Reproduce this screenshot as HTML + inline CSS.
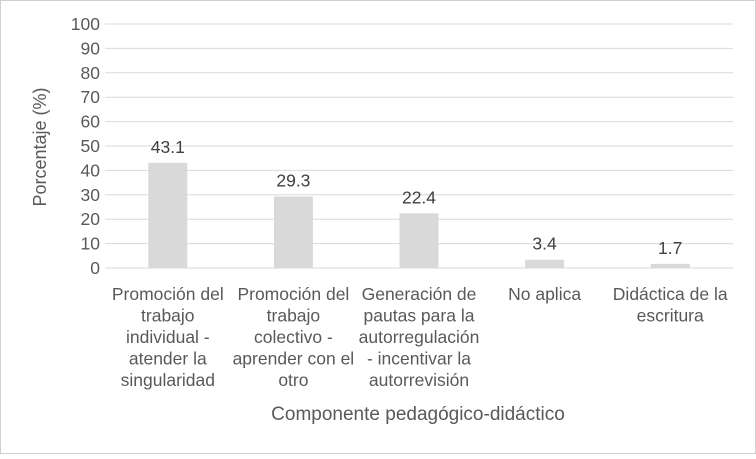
<!DOCTYPE html>
<html><head><meta charset="utf-8"><style>
body{margin:0;background:#fff;font-family:"Liberation Sans",sans-serif;}
</style></head><body>
<svg id="chart" width="756" height="454" xmlns="http://www.w3.org/2000/svg" font-family="Liberation Sans, sans-serif">
<rect x="0.5" y="0.5" width="755" height="453" fill="#fff" stroke="#d0d0d0"/>
<g id="grid"></g><g id="bars"></g><g id="labels"></g>
<text x="46" y="147" transform="rotate(-90 46 147)" text-anchor="middle" font-size="18" fill="#595959">Porcentaje (%)</text>
<text x="418" y="420" text-anchor="middle" font-size="19" fill="#595959">Componente pedagógico-didáctico</text>
</svg>
<script>
const categories=[["Promoción del","trabajo","individual -","atender la","singularidad"],["Promoción del","trabajo","colectivo -","aprender con el","otro"],["Generación de","pautas para la","autorregulación","- incentivar la","autorrevisión"],["No aplica"],["Didáctica de la","escritura"]];
const values=[43.1,29.3,22.4,3.4,1.7];
const yTicks=[0,10,20,30,40,50,60,70,80,90,100];
const NS="http://www.w3.org/2000/svg";
const L=105,R=733,Y0=268,Y1=24;
const y=v=>Y0-(v/100)*(Y0-Y1);
const band=(R-L)/categories.length;
const xc=i=>L+band*(i+0.5);
function mk(tag,attrs,parent,txt){const e=document.createElementNS(NS,tag);for(const k in attrs)e.setAttribute(k,attrs[k]);if(txt!==undefined)e.textContent=txt;document.getElementById(parent).appendChild(e);return e;}
yTicks.forEach(t=>{
  const l=mk('line',{x1:L,x2:R,y1:y(t),y2:y(t),stroke:'#d9d9d9','stroke-width':1},'grid');
  
  
  const tx=mk('text',{x:100,y:y(t)+6,'text-anchor':'end','font-size':17.5,fill:'#595959'},'labels',String(t));
  
  
});
values.forEach((v,i)=>{
  const b=mk('rect',{x:xc(i)-19.5,y:y(v),width:39,height:Y0-y(v),fill:'#d9d9d9'},'bars');
  
  
  const vl=mk('text',{x:xc(i),y:y(v)-10,'text-anchor':'middle','font-size':17.5,fill:'#404040'},'labels',v.toFixed(1));
  
  
  categories[i].forEach((line,j)=>{
    const c=mk('text',{x:xc(i),y:300+j*21.5,'text-anchor':'middle','font-size':17.5,fill:'#595959'},'labels',line);
    
    
  });
});
</script>
</body></html>
